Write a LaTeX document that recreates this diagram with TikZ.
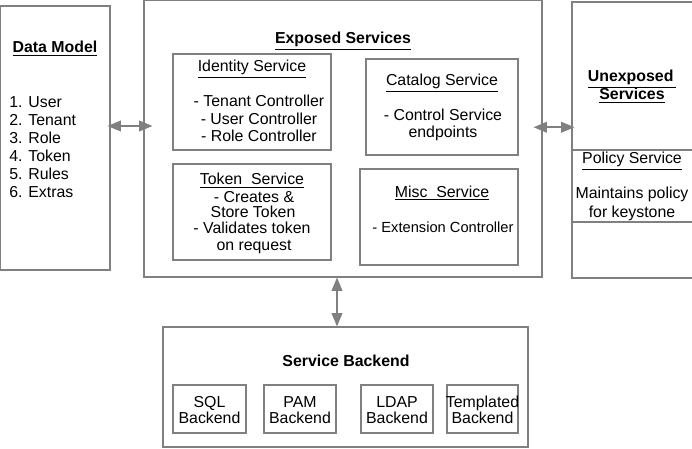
\documentclass[tikz,border=0pt]{standalone}
\usepackage{fontspec}
\setmainfont{Liberation Sans}
\usetikzlibrary{fit,arrows.meta,calc}
\definecolor{edge}{RGB}{128,128,128}
\definecolor{arr}{RGB}{128,128,128}
\tikzset{
  box/.style={draw=edge, line width=0.8pt, inner sep=0pt},
  txt/.style={inner sep=0pt, anchor=base, font=\fontsize{11.9}{13.5}\selectfont},
  biarrow/.style={draw=arr, line width=1.2pt, {Triangle[length=10pt,width=8pt]}-{Triangle[length=10pt,width=8pt]}},
}
\newcommand{\ul}[1]{\underline{#1}}
\begin{document}
\begin{tikzpicture}[x=0.75pt,y=-0.75pt]
\useasboundingbox (0,0) rectangle (692,449);
\fill[white] (0,0) rectangle (692,449);
% boxes
\node[box, fit={(0.5,6) (110,270)}] (dm) {};
\node[box, fit={(144,0.5) (542,277)}] (ex) {};
\node[box, fit={(173,54) (331,150)}] (id) {};
\node[box, fit={(173,164) (331,260)}] (tk) {};
\node[box, fit={(366,59) (518,155)}] (cat) {};
\node[box, fit={(360,169) (518,265)}] (misc) {};
\node[box, fit={(572,2) (700,278)}] (un) {};
\node[box, fit={(572,150) (700,222)}] (pol) {};
\node[box, fit={(163,327) (528,447)}] (sb) {};
\node[box, fit={(173,385) (246,433)}] (sql) {};
\node[box, fit={(264,385) (336,433)}] (pam) {};
\node[box, fit={(361,385) (433,433)}] (ldap) {};
\node[box, fit={(447,385) (518,433)}] (tpl) {};
% Data model texts
\node[txt] (dmt) at (55,53) {\textbf{\ul{Data Model}}};
\node[txt, anchor=base west] (l1) at (9,107.5) {1. User};
\node[txt, anchor=base west] (l2) at (9,125.5) {2. Tenant};
\node[txt, anchor=base west] (l3) at (9,143.5) {3. Role};
\node[txt, anchor=base west] (l4) at (9,161.5) {4. Token};
\node[txt, anchor=base west] (l5) at (9,179.5) {5. Rules};
\node[txt, anchor=base west] (l6) at (9,197.5) {6. Extras};
% Exposed
\node[txt] (ext) at (343,44) {\textbf{\ul{Exposed Services}}};
\node[txt] (idt) at (252,72) {\ul{Identity Service}};
\node[txt] (id1) at (259,107) {- Tenant Controller};
\node[txt] (id2) at (259,124.5) {- User Controller};
\node[txt] (id3) at (259,142) {- Role Controller};
\node[txt] (tkt) at (252,185) {\ul{Token\ \ Service}};
\node[txt] (tk1) at (254,202) {- Creates \&};
\node[txt] (tk2) at (253,217) {Store Token};
\node[txt] (tk3) at (252,233) {- Validates token};
\node[txt] (tk4) at (254,250) {on request};
\node[txt] (catt) at (442,86) {\ul{Catalog Service}};
\node[txt] (cat1) at (443,121) {- Control Service};
\node[txt] (cat2) at (443,138) {endpoints};
\node[txt] (mt) at (442,197) {\ul{Misc\ \ Service}};
\node[txt, font=\fontsize{11}{13.5}\selectfont] (m1) at (443,232) {- Extension Controller};
% Unexposed
\node[txt] (unt1) at (632,82) {\textbf{\ul{Unexposed\,}}};
\node[txt] (unt2) at (632,100) {\textbf{\ul{Services}}};
\node[txt] (pt) at (632,164) {\ul{Policy Service}};
\node[txt] (p1) at (632,199) {Maintains policy};
\node[txt] (p2) at (632,217) {for keystone};
% Backend
\node[txt] (sbt) at (346,366) {\textbf{Service Backend}};
\node[txt] at (sql.center |- 0,407) {SQL};
\node[txt] at (sql.center |- 0,423) {Backend};
\node[txt] at (pam.center |- 0,407) {PAM};
\node[txt] at (pam.center |- 0,423) {Backend};
\node[txt] at (ldap.center |- 0,407) {LDAP};
\node[txt] at (ldap.center |- 0,423) {Backend};
\node[txt] at (tpl.center |- 0,407) {Templated};
\node[txt] at (tpl.center |- 0,423) {Backend};
% connectors
\draw[biarrow] ($(dm.east)+(-3,-12)$) -- ($(dm.east -| ex.west)+(9,-12)$);
\draw[biarrow] ($(ex.east)+(-9,-11.5)$) -- ($(ex.east -| un.west)+(3,-11.5)$);
\draw[biarrow] ($(ex.south)+(-6,0)$) -- ($(ex.south |- sb.north)+(-6,0)$);
\end{tikzpicture}
\end{document}
